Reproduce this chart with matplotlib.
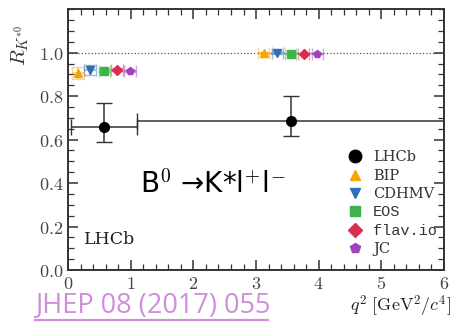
import numpy as np
import matplotlib
matplotlib.use('Agg')
import matplotlib.pyplot as plt
from matplotlib.ticker import MultipleLocator

plt.rcParams['mathtext.fontset'] = 'cm'
plt.rcParams['font.family'] = 'DejaVu Serif'

# LHCb measurement (two q2 bins)
lhcb_x = [0.575, 3.55]
lhcb_xlo = [0.045, 1.1]
lhcb_xhi = [1.1, 6.0]
lhcb_y = [0.66, 0.685]
lhcb_yup = [0.11, 0.115]
lhcb_ydn = [0.07, 0.07]

# theory predictions
th_names = ['BIP', 'CDHMV', 'EOS', 'flav.io', 'JC']
th_x1 = [0.16, 0.35, 0.58, 0.78, 0.99]
th_y1 = [0.905, 0.92, 0.917, 0.922, 0.917]
th_e1 = [0.027, 0.022, 0.006, 0.008, 0.004]
th_x2 = [3.12, 3.34, 3.55, 3.76, 3.98]
th_y2 = [0.998, 1.0, 0.996, 0.996, 0.996]
th_e2 = [0.006, 0.006, 0.004, 0.004, 0.003]
th_colors = ['#f7a400', '#2f6eb8', '#3cb44b', '#d7304e', '#9c44b8']
th_markers = ['^', 'v', 's', 'D', 'p']

fig = plt.figure(figsize=(4.54, 3.22), dpi=100)
ax = fig.add_axes([0.15, 0.1615, 0.828, 0.81])

ax.axhline(1.0, ls=':', color='#555555', lw=0.9, zorder=1)

for i in range(5):
    for xs, ys, es in [(th_x1, th_y1, th_e1), (th_x2, th_y2, th_e2)]:
        ax.errorbar(xs[i], ys[i], xerr=0.09, yerr=es[i], fmt='none',
                    ecolor=th_colors[i], alpha=0.45, lw=1.2, capsize=4)
        ax.plot(xs[i], ys[i], marker=th_markers[i], color=th_colors[i],
                ms=6 if th_markers[i] != 'D' else 5.5, ls='none', zorder=3)

xerr = [np.array(lhcb_x) - np.array(lhcb_xlo), np.array(lhcb_xhi) - np.array(lhcb_x)]
ax.errorbar(lhcb_x, lhcb_y, xerr=xerr, yerr=[lhcb_ydn, lhcb_yup], fmt='o',
            color='black', ecolor='#333333', ms=7, lw=1.1, capsize=6, zorder=4)

# legend handles
h = [ax.plot([], [], 'o', color='black', ms=9)[0]]
for i in range(5):
    h.append(ax.plot([], [], marker=th_markers[i], color=th_colors[i],
                     ms=7.5, ls='none')[0])
leg = ax.legend(h, ['LHCb', 'BIP', 'CDHMV', 'EOS', 'flav.io', 'JC'],
                loc='lower right', bbox_to_anchor=(1.0, 0.025), frameon=False,
                fontsize=10.5, handletextpad=0.2, labelspacing=0.3,
                borderaxespad=0.1)
for t in leg.get_texts():
    t.set_color('#333333')
    if t.get_text() in ('EOS', 'flav.io'):
        t.set_family('Liberation Mono')
        t.set_fontsize(11)

ax.text(0.25, 0.12, 'LHCb', fontsize=12.5, color='#222222', family='DejaVu Serif')
ax.text(1.15, 0.355, r'B$^{\mathsf{0}}$ →K*l$^{\mathsf{+}}$l$^{\mathsf{-}}$',
        fontsize=20, family='DejaVu Sans', color='black')

ax.set_xlim(0, 6)
ax.set_ylim(0, 1.2)
ax.xaxis.set_major_locator(MultipleLocator(1))
ax.xaxis.set_minor_locator(MultipleLocator(0.2))
ax.yaxis.set_major_locator(MultipleLocator(0.2))
ax.yaxis.set_minor_locator(MultipleLocator(0.05))
ax.set_yticks(np.arange(0, 1.01, 0.2))
ax.set_yticklabels(['$%.1f$' % v for v in np.arange(0, 1.01, 0.2)])
ax.set_xticks(range(7))
ax.set_xticklabels(['$%d$' % v for v in range(7)])
ax.tick_params(which='both', direction='in', top=True, right=True,
               labelsize=13, colors='#333333', labelcolor='#444444')
ax.tick_params(which='major', length=7, width=1.1)
ax.tick_params(which='minor', length=4, width=0.9)
for s in ax.spines.values():
    s.set_linewidth(1.4)
    s.set_color('#333333')

fig.text(0.045, 0.86, r'$R_{K^{*0}}$', rotation=90, fontsize=15,
         ha='center', va='center', color='#333333')
fig.text(0.995, 0.01, r'$q^2\ [\mathrm{GeV}^2/c^4]$', fontsize=13,
         ha='right', va='bottom', color='#222222')
fig.text(0.077, 0.008, 'JHEP 08 (2017) 055', fontsize=19.5, family='Open Sans',
         color='#cf8ddb', ha='left', va='bottom')
fig.add_artist(plt.Line2D([0.077, 0.59], [0.006, 0.006], color='#cf8ddb', lw=1.6,
                          transform=fig.transFigure))

fig.savefig('out.png', dpi=100)
